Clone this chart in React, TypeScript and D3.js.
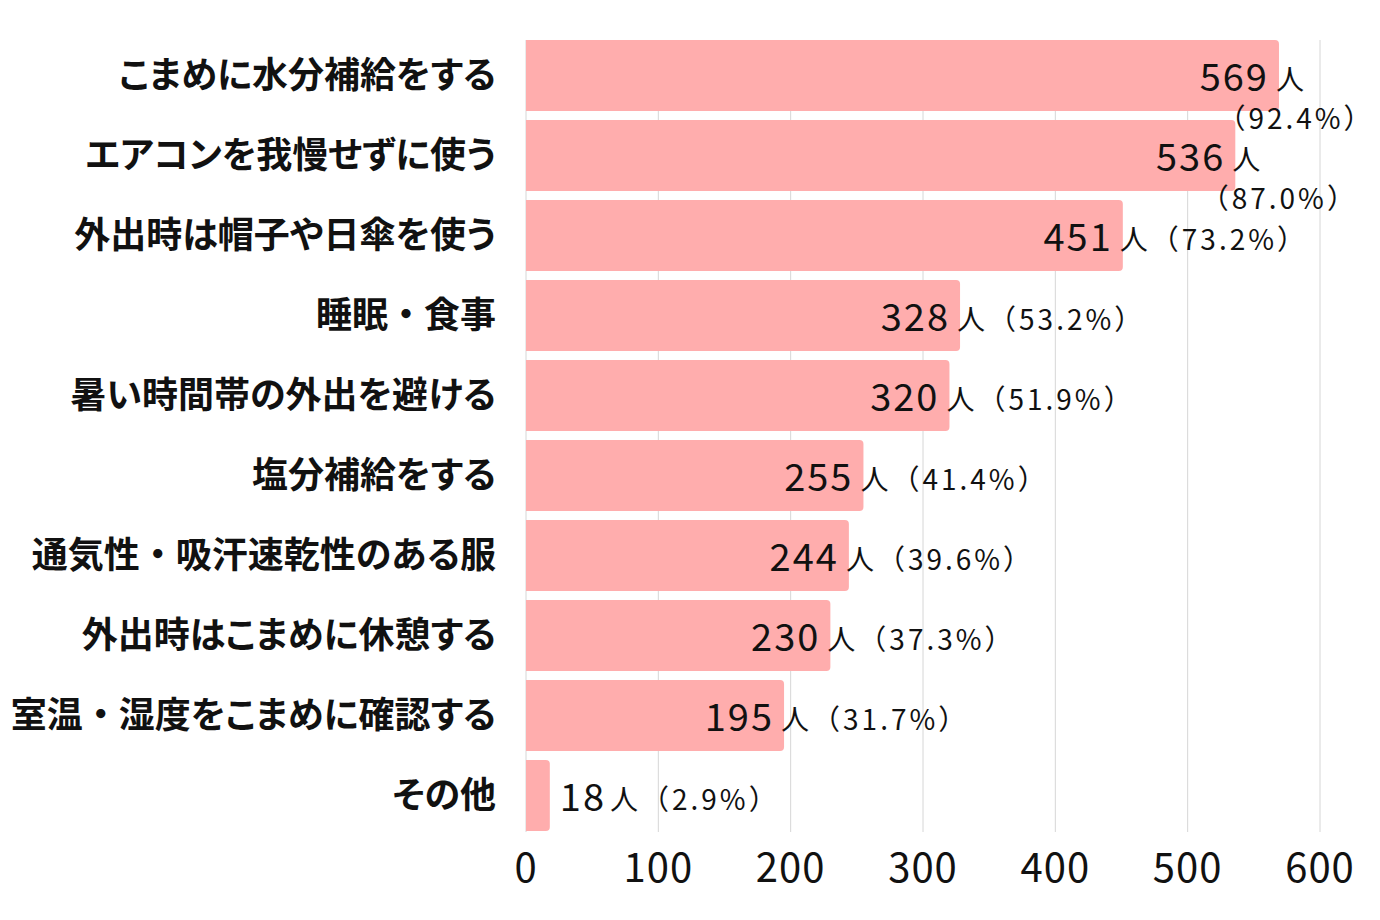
import React, {useRef, useEffect} from 'react';
import * as d3 from 'd3';

const categories = [
    'こまめに水分補給をする',
    'エアコンを我慢せずに使う',
    '外出時は帽子や日傘を使う',
    '睡眠・食事',
    '暑い時間帯の外出を避ける',
    '塩分補給をする',
    '通気性・吸汗速乾性のある服',
    '外出時はこまめに休憩する',
    '室温・湿度をこまめに確認する',
    'その他',
];
const counts = [569, 536, 451, 328, 320, 255, 244, 230, 195, 18];
const percents = ['92.4', '87.0', '73.2', '53.2', '51.9', '41.4', '39.6', '37.3', '31.7', '2.9'];
const xTicks = [0, 100, 200, 300, 400, 500, 600];

const W = 1380;
const H = 920;
const FONT = '"Noto Sans CJK JP", "Noto Sans", sans-serif';

const App: React.FC = () => {
    const ref = useRef<SVGSVGElement | null>(null);

    useEffect(() => {
        if (!ref.current) return;
        const svg = d3.select(ref.current);
        svg.selectAll('*').remove();

        const x = d3.scaleLinear().domain([0, 600]).range([526, 1320]);
        const y = d3.scaleBand<string>().domain(categories).range([40, 831]).paddingInner(0.1125);
        const bw = y.bandwidth();

        // grid
        svg.append('g')
            .selectAll('line')
            .data(xTicks)
            .join('line')
            .attr('x1', d => x(d))
            .attr('x2', d => x(d))
            .attr('y1', 40)
            .attr('y2', 832)
            .attr('stroke', '#d6d6d6')
            .attr('stroke-width', 1);

        // bars, square on the left, rounded on the right
        const r = 4;
        svg.append('g')
            .selectAll('path')
            .data(counts)
            .join('path')
            .attr('d', (d, i) => {
                const x0 = x(0);
                const x1 = x(d);
                const y0 = y(categories[i])!;
                const y1 = y0 + bw;
                const rr = Math.min(r, (x1 - x0) / 2);
                return `M${x0},${y0}H${x1 - rr}Q${x1},${y0} ${x1},${y0 + rr}V${y1 - rr}Q${x1},${y1} ${x1 - rr},${y1}H${x0}Z`;
            })
            .attr('fill', '#ffadad');

        // category labels (proportional kana, but keep the middle dot full width)
        const cats = svg.append('g')
            .selectAll('text')
            .data(categories)
            .join('text')
            .attr('x', 496)
            .attr('y', d => y(d)! + bw / 2)
            .attr('dy', '0.36em')
            .attr('text-anchor', 'end')
            .attr('font-family', FONT)
            .attr('font-weight', 'bold')
            .attr('font-size', 36)
            .attr('fill', '#111');
        cats.each(function (d) {
            const t = d3.select(this);
            d.split(/(・)/).filter(s => s.length).forEach(part => {
                t.append('tspan')
                    .style('font-feature-settings', part === '・' ? 'normal' : '"palt"')
                    .text(part);
            });
        });

        // axis tick labels
        svg.append('g')
            .selectAll('text')
            .data(xTicks)
            .join('text')
            .attr('x', d => x(d))
            .attr('y', 882)
            .attr('text-anchor', 'middle')
            .attr('font-family', FONT)
            .attr('font-size', 40)
            .attr('letter-spacing', 1)
            .attr('fill', '#111')
            .text(d => d);

        // value labels
        const lab = svg.append('g').attr('font-family', FONT).attr('fill', '#111');
        counts.forEach((v, i) => {
            const cy = y(categories[i])! + bw / 2;
            const end = x(v);
            const num = lab.append('text')
                .attr('y', cy + 15)
                .attr('font-size', 38)
                .attr('letter-spacing', 2)
                .text(v);
            const numW = (num.node() as SVGTextElement).getComputedTextLength();
            let sx: number;
            if (end - x(0) < numW + 20) {
                num.attr('x', end + 10).attr('text-anchor', 'start');
                sx = end + 10 + numW + 4;
            } else {
                num.attr('x', end - 10).attr('text-anchor', 'end');
                sx = end - 3;
            }
            const full = lab.append('text')
                .attr('x', sx)
                .attr('y', cy + 14)
                .attr('font-size', 28)
                .attr('letter-spacing', 3)
                .text(`人（${percents[i]}%）`);
            const fullW = (full.node() as SVGTextElement).getComputedTextLength();
            if (sx + fullW > W - 8) {
                // percentage wraps onto a second line
                full.text('人');
                lab.append('text')
                    .attr('x', Math.min(end + 44, W - 84))
                    .attr('y', cy + 53)
                    .attr('text-anchor', 'middle')
                    .attr('font-size', 28)
                    .attr('letter-spacing', 3)
                    .text(`（${percents[i]}%）`);
            }
        });

        return () => {
            // eslint-disable-next-line react-hooks/exhaustive-deps
            d3.select(ref.current).selectAll('*').remove();
        };
    }, []);

    return (
        <svg ref={ref} width={W} height={H}
             style={{position: 'absolute', left: 0, top: 0, background: '#fff'}}></svg>
    );
};

export default App;
